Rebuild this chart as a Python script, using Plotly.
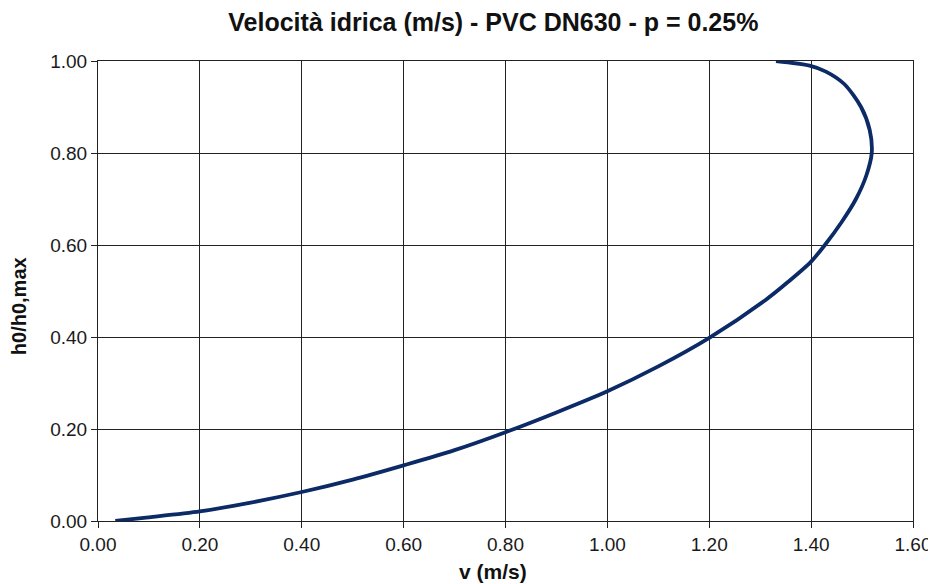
import plotly.graph_objects as go

# velocity (m/s) and relative depth h0/h0,max
velocity = [0.034, 0.09, 0.20, 0.30, 0.40, 0.50, 0.60, 0.70, 0.80, 0.90, 1.00,
            1.10, 1.20, 1.31, 1.355, 1.40, 1.427, 1.46, 1.488, 1.508, 1.519, 1.515,
            1.498, 1.465, 1.429, 1.397, 1.331]
depth = [0.0, 0.007, 0.021, 0.040, 0.063, 0.090, 0.121, 0.154, 0.193, 0.236, 0.282,
         0.336, 0.398, 0.48, 0.52, 0.564, 0.60, 0.65, 0.70, 0.75, 0.80, 0.85,
         0.90, 0.95, 0.977, 0.990, 1.0]

x_ticks = [0.0, 0.2, 0.4, 0.6, 0.8, 1.0, 1.2, 1.4, 1.6]
y_ticks = [0.0, 0.2, 0.4, 0.6, 0.8, 1.0]

FONT = "Liberation Sans, Arial, sans-serif"

fig = go.Figure()
fig.add_trace(go.Scatter(
    x=velocity, y=depth, mode="lines",
    line=dict(color="#0b2a66", width=3.8, shape="spline", smoothing=0.8),
    showlegend=False, hoverinfo="x+y"))

axis_common = dict(
    showgrid=True, gridcolor="#222222", gridwidth=1,
    showline=True, linecolor="#222222", linewidth=1, mirror=True,
    ticks="outside", ticklen=6, tickcolor="#222222",
    zeroline=False, tickformat=".2f", automargin=False,
    ticklabeloverflow="allow",
    tickfont=dict(family=FONT, size=19, color="#1a1a1a"),
)

fig.update_layout(
    width=928, height=576,
    paper_bgcolor="white", plot_bgcolor="white",
    margin=dict(l=90, r=23, t=53, b=63),
    title=dict(text="<b>Velocità idrica (m/s) - PVC DN630 - p = 0.25%</b>",
               x=0.523, xanchor="center", y=0.976, yanchor="middle",
               font=dict(family=FONT, size=25, color="#111111")),
    xaxis=dict(range=[0, 1.6], tickvals=x_ticks, **axis_common),
    yaxis=dict(range=[0, 1.0], tickvals=y_ticks, **axis_common),
    annotations=[
        dict(text="<b>v (m/s)</b>", xref="paper", yref="paper", x=0.485, y=0,
             xanchor="center", yanchor="middle", yshift=-50, showarrow=False,
             font=dict(family=FONT, size=21, color="#111111")),
        dict(text="<b>h0/h0,max</b>", xref="paper", yref="paper", x=0, y=0.467,
             xanchor="center", yanchor="middle", xshift=-79, textangle=-90,
             showarrow=False, font=dict(family=FONT, size=20, color="#111111")),
    ],
)

fig.write_html("out.html")
